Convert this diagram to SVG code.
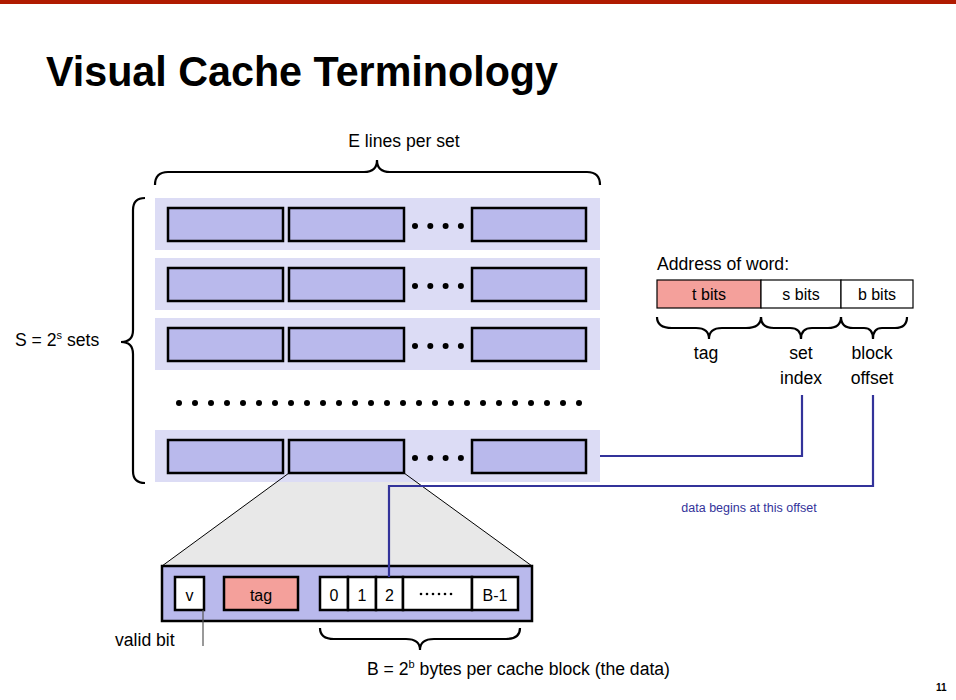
<svg xmlns="http://www.w3.org/2000/svg" width="956" height="700" viewBox="0 0 956 700">
<style>
text{font-family:"Liberation Sans",Arial,sans-serif;fill:#000}
.lbl{font-size:17.6px}
.cell{font-size:16px;text-anchor:middle}
.set{fill:#dcdcf5}
.line{fill:#b9b9ec;stroke:#000;stroke-width:2.5}
.brace{fill:none;stroke:#000;stroke-width:2.2}
.blue{fill:none;stroke:#33339a;stroke-width:2.2}
.wcell{fill:#fff;stroke:#000;stroke-width:2.5}
.tcell{fill:#f4a09b;stroke:#000;stroke-width:2.5}
.acell{fill:#fff;stroke:#000;stroke-width:1.2}
</style>
<defs>
<g id="dots4"><circle cx="0" cy="0" r="3"/><circle cx="15.3" cy="0" r="3"/><circle cx="30.6" cy="0" r="3"/><circle cx="45.9" cy="0" r="3"/></g>
<g id="setrow">
<rect class="set" x="155" y="0" width="445" height="52"/>
<rect class="line" x="168" y="10" width="115" height="33"/>
<rect class="line" x="289" y="10" width="115" height="33"/>
<rect class="line" x="472" y="10" width="114" height="33"/>
<use href="#dots4" x="415" y="28"/>
</g>
</defs>
<rect x="0" y="0" width="956" height="4" fill="#b01a00"/>
<text x="46" y="86" font-family="'Open Sans',sans-serif" font-weight="bold" font-size="42" textLength="512" lengthAdjust="spacingAndGlyphs">Visual Cache Terminology</text>

<g id="cache">
<text class="lbl" x="404" y="147" text-anchor="middle">E lines per set</text>
<path class="brace" d="M155,185 Q155,172 168,172 L364,172 Q377,172 377,160 Q377,172 390,172 L587,172 Q600,172 600,185"/>
<path class="brace" d="M145,198 Q133,198 133,210 L133,330 Q133,342 121,342 Q133,342 133,354 L133,471 Q133,483 145,483"/>
<text class="lbl" x="15" y="346">S = 2<tspan font-size="11" dy="-7">s</tspan><tspan dy="7"> sets</tspan></text>
<g id="set1"><use href="#setrow" y="198"/></g>
<g id="set2"><use href="#setrow" y="258"/></g>
<g id="set3"><use href="#setrow" y="318"/></g>
<g id="setdots">
<circle cx="179" cy="403" r="3"/><circle cx="195" cy="403" r="3"/><circle cx="211" cy="403" r="3"/><circle cx="227" cy="403" r="3"/><circle cx="243" cy="403" r="3"/><circle cx="259" cy="403" r="3"/><circle cx="275" cy="403" r="3"/><circle cx="291" cy="403" r="3"/><circle cx="307" cy="403" r="3"/><circle cx="323" cy="403" r="3"/><circle cx="339" cy="403" r="3"/><circle cx="355" cy="403" r="3"/><circle cx="371" cy="403" r="3"/><circle cx="387" cy="403" r="3"/><circle cx="403" cy="403" r="3"/><circle cx="419" cy="403" r="3"/><circle cx="435" cy="403" r="3"/><circle cx="451" cy="403" r="3"/><circle cx="467" cy="403" r="3"/><circle cx="483" cy="403" r="3"/><circle cx="499" cy="403" r="3"/><circle cx="515" cy="403" r="3"/><circle cx="531" cy="403" r="3"/><circle cx="547" cy="403" r="3"/><circle cx="563" cy="403" r="3"/><circle cx="579" cy="403" r="3"/>
</g>
<g id="setS">
<path d="M289,473 L404,473 L532,566 L162,566 Z" fill="#e8e8e8"/>
<use href="#setrow" y="430"/>
<path d="M289,473 L162,566 M404,473 L532,566" stroke="#000" stroke-width="1" fill="none"/>
</g>
</g>

<g id="address">
<text class="lbl" x="657" y="270">Address of word:</text>
<rect x="657" y="280" width="104" height="28" fill="#f4a09b" stroke="#000" stroke-width="1.2"/>
<rect class="acell" x="761" y="280" width="80" height="28"/>
<rect class="acell" x="841" y="280" width="72" height="28"/>
<text class="cell" x="709" y="300">t bits</text>
<text class="cell" x="801" y="300">s bits</text>
<text class="cell" x="877" y="300">b bits</text>
<path class="brace" d="M657,317 Q657,328 672,328 L696,328 Q709,328 709,339 Q709,328 722,328 L746,328 Q761,328 761,317"/>
<path class="brace" d="M761,317 Q761,328 774,328 L790,328 Q801,328 801,339 Q801,328 812,328 L828,328 Q841,328 841,317"/>
<path class="brace" d="M841,317 Q841,328 853,328 L864,328 Q873,328 873,339 Q873,328 882,328 L895,328 Q907,328 907,317"/>
<text class="lbl" x="706" y="359" text-anchor="middle">tag</text>
<text class="lbl" x="801" y="359" text-anchor="middle">set</text>
<text class="lbl" x="801" y="384" text-anchor="middle">index</text>
<text class="lbl" x="872" y="359" text-anchor="middle">block</text>
<text class="lbl" x="872" y="384" text-anchor="middle">offset</text>
</g>

<g id="block">
<rect class="line" x="162" y="566" width="370" height="55"/>
<rect class="wcell" x="175" y="577" width="29" height="33"/>
<rect class="tcell" x="224" y="577" width="74" height="33"/>
<rect class="wcell" x="320" y="577" width="28" height="33"/>
<rect class="wcell" x="348" y="577" width="28" height="33"/>
<rect class="wcell" x="376" y="577" width="27" height="33"/>
<rect class="wcell" x="403" y="577" width="69" height="33"/>
<rect class="wcell" x="472" y="577" width="46" height="33"/>
<text class="cell" x="189.5" y="601">v</text>
<text class="cell" x="261" y="601">tag</text>
<text class="cell" x="334" y="601">0</text>
<text class="cell" x="362" y="601">1</text>
<text class="cell" x="389.5" y="601">2</text>
<g><circle cx="421" cy="594" r="1.3"/><circle cx="427" cy="594" r="1.3"/><circle cx="433" cy="594" r="1.3"/><circle cx="439" cy="594" r="1.3"/><circle cx="445" cy="594" r="1.3"/><circle cx="451" cy="594" r="1.3"/></g>
<text class="cell" x="495" y="601">B-1</text>
<path d="M203,610 L203,646" stroke="#555" stroke-width="1.2"/>
<text class="lbl" x="115" y="646">valid bit</text>
<path class="brace" d="M320,628 Q320,639 334,639 L406,639 Q420,639 420,650 Q420,639 434,639 L506,639 Q520,639 520,628"/>
<text class="lbl" x="367" y="675">B = 2<tspan font-size="11" dy="-7">b</tspan><tspan dy="7"> bytes per cache block (the data)</tspan></text>
</g>

<g id="connectors">
<path class="blue" d="M600,456 L802,456 L802,395"/>
<path class="blue" d="M873,395 L873,486 L389,486 L389,577"/>
<text x="749" y="512" font-size="12.5" text-anchor="middle" style="fill:#33339a">data begins at this offset</text>
</g>
<text x="936" y="691" font-size="10" font-weight="bold">11</text>
</svg>
